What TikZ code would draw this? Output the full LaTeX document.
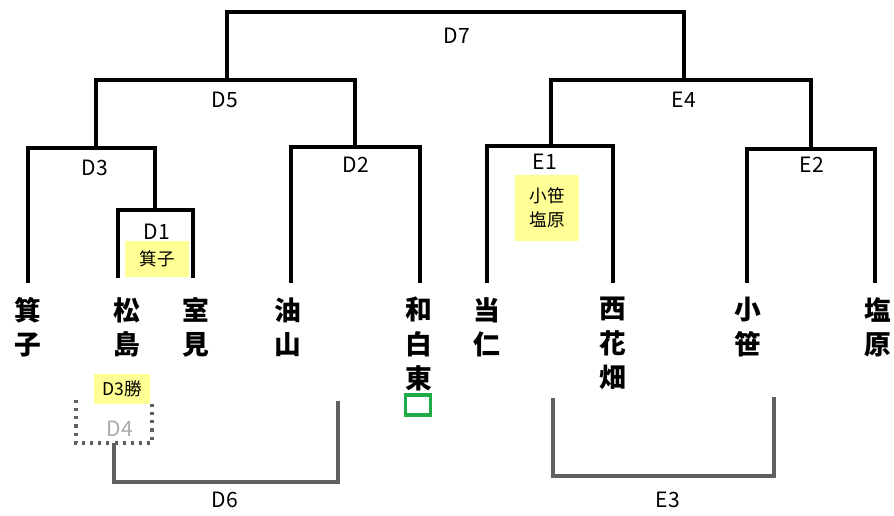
\documentclass[tikz,border=0pt]{standalone}
\usepackage{fontspec}
\setmainfont{Noto Sans CJK JP}
\definecolor{hiyellow}{RGB}{255,255,150}
\definecolor{linegray}{RGB}{96,96,96}
\definecolor{ghost}{RGB}{170,170,170}
\definecolor{wingreen}{RGB}{30,170,70}
\tikzset{
    bk/.style={line width=3.5pt},
    gbk/.style={line width=2.8pt, linegray},
    dotbox/.style={line width=2.5pt, linegray, dash pattern=on 2.2pt off 3.6pt},
    lbl/.style={font=\fontsize{15}{15}\selectfont, inner sep=0pt},
    team/.style={font=\bfseries\fontsize{19}{24.5}\selectfont, align=center, anchor=north, inner sep=0pt},
    memo/.style={fill=hiyellow, font=\fontsize{12.5}{17}\selectfont, align=center, inner sep=0pt},
}
\begin{document}
\begin{tikzpicture}[x=0.025cm, y=-0.025cm]
    \useasboundingbox (0,0) rectangle (894,515);
    % teams: name/foot x/foot y/text x/text
    \foreach \n/\f/\b/\x/\t in {kako/28/283/28/箕\\子, matsu/118/278/127/松\\島, muro/193/278/196/室\\見,
        abura/291/283/288/油\\山, wajiro/420/283/419/和\\白\\東, tonin/487/283/487/当\\仁,
        nishi/613/283/613/西\\花\\畑, kozasa/747/283/748/小\\笹, shio/875/283/878/塩\\原}
        {
            \coordinate (\n) at (\f,\b);
            \node[team] (t-\n) at (\x,297) {\t};
        }
    % match points
    \coordinate (d1) at (155,210);
    \coordinate (d3) at (96,148);
    \coordinate (d2) at (355,147);
    \coordinate (d5) at (227,80);
    \coordinate (d7) at (457,12);
    \coordinate (e1) at (551,146);
    \coordinate (e2) at (811,149);
    \coordinate (e4) at (684,80);
    \draw[bk] (matsu) |- (d1) -| (muro);
    \draw[bk] (kako) |- (d3) -| (d1);
    \draw[bk] (abura) |- (d2) -| (wajiro);
    \draw[bk] (d3) |- (d5) -| (d2);
    \draw[bk] (tonin) |- (e1) -| (nishi);
    \draw[bk] (kozasa) |- (e2) -| (shio);
    \draw[bk] (e1) |- (e4) -| (e2);
    \draw[bk] (d5) |- (d7) -| (e4);
    \foreach \n/\x/\y in {D7/457/36, D5/225/100, D3/95/168, D1/157/232, D2/356/165, E4/684/100, E1/545/162, E2/812/165}
        { \node[lbl] (l-\n) at (\x,\y) {\n}; }
    \node[memo, minimum width=1.575cm, minimum height=0.9cm] (m-d1) at (157,259) {箕子};
    \node[memo, minimum width=1.575cm, minimum height=1.625cm] (m-e1) at (547,208) {小笹\\塩原};
    % lower brackets
    \draw[dotbox] (76,400) -- (76,443) -- (152,443) -- (152,400);
    \node[lbl, text=ghost] (l-D4) at (120,429) {D4};
    \node[memo, minimum width=1.4cm, minimum height=0.75cm] (m-d3) at (122,389) {D3勝};
    \node[draw=wingreen, line width=2.5pt, minimum width=0.62cm, minimum height=0.5cm, inner sep=0pt] (spare) at (418,405) {};
    \coordinate (d6a) at (114,443);
    \coordinate (d6b) at (338,401);
    \coordinate (d6) at (226,482);
    \coordinate (e3a) at (553,398);
    \coordinate (e3b) at (774,397);
    \coordinate (e3) at (663,476);
    \draw[gbk] (d6a) |- (d6) -| (d6b);
    \draw[gbk] (e3a) |- (e3) -| (e3b);
    \node[lbl] (l-D6) at (225,500) {D6};
    \node[lbl] (l-E3) at (668,500) {E3};
\end{tikzpicture}
\end{document}
